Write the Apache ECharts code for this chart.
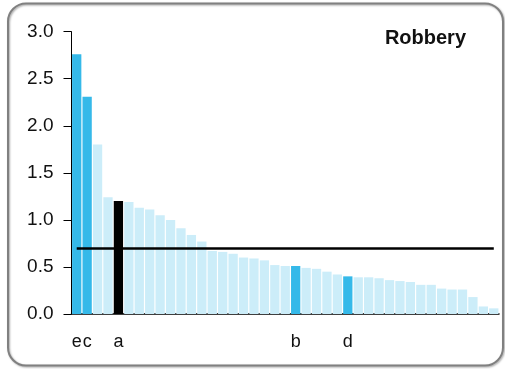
<!DOCTYPE html>
<html>
<head>
<meta charset="utf-8">
<script src="https://cdn.jsdelivr.net/npm/echarts@6/dist/echarts.min.js"></script>
<style>
html,body{margin:0;padding:0;background:#fff;}
#chart{width:505px;height:369px;}
</style>
</head>
<body>
<div id="chart"></div>
<script>
// ---- data ----
var title = 'Robbery';
var categories = ['P1','P2','P3','P4','P5','P6','P7','P8','P9','P10','P11','P12','P13','P14','P15','P16','P17','P18','P19','P20','P21','P22','P23','P24','P25','P26','P27','P28','P29','P30','P31','P32','P33','P34','P35','P36','P37','P38','P39','P40','P41'];
var pointLabels = ['e','c','','','a','','','','','','','','','','','','','','','','','b','','','','','d','','','','','','','','','','','','','',''];
var values = [2.76,2.31,1.80,1.24,1.20,1.19,1.13,1.11,1.05,1.00,0.91,0.84,0.77,0.67,0.66,0.64,0.60,0.59,0.57,0.52,0.51,0.51,0.49,0.48,0.45,0.42,0.40,0.39,0.39,0.38,0.36,0.35,0.34,0.31,0.31,0.27,0.26,0.26,0.18,0.08,0.06];
// group: 'hi' = highlighted, 'sel' = selected, 'base' = others
var groups = ['hi','hi','base','base','sel','base','base','base','base','base','base','base','base','base','base','base','base','base','base','base','base','hi','base','base','base','base','hi','base','base','base','base','base','base','base','base','base','base','base','base','base','base'];
var threshold = 0.7;
var yTicks = [0,0.5,1.0,1.5,2.0,2.5,3.0];

var groupColors = {hi:'#35B9E9', sel:'#000000', base:'#CCEDF9'};

var chart = echarts.init(document.getElementById('chart'), null, {renderer:'canvas'});
var barData = values.map(function(v,i){
  return {value:v, itemStyle:{color:groupColors[groups[i]]}};
});

chart.setOption({
  animation:false,
  backgroundColor:'#ffffff',
  textStyle:{fontFamily:'Liberation Sans, Arial, sans-serif'},
  graphic:[{
    type:'rect',
    shape:{x:8,y:3.5,width:495,height:362,r:18},
    style:{fill:'none',stroke:'#808080',lineWidth:2,shadowBlur:2,shadowColor:'rgba(0,0,0,0.35)',shadowOffsetX:1,shadowOffsetY:1},
    z:-10
  },{
    type:'text',
    right:39,top:28,
    style:{text:title,fill:'#111',font:'bold 20px "Liberation Sans", Arial, sans-serif'}
  }],
  grid:{left:71.5,right:6,top:31.7,bottom:55,containLabel:false},
  xAxis:{
    type:'category',
    data:categories,
    boundaryGap:true,
    axisLine:{lineStyle:{color:'#000',width:1.5}},
    axisTick:{show:false},
    axisLabel:{interval:0,margin:19,fontSize:18,color:'#111',
      formatter:function(v,i){return pointLabels[i];}}
  },
  yAxis:{
    type:'value',
    min:yTicks[0],max:yTicks[yTicks.length-1],interval:0.5,
    splitLine:{show:false},
    axisLine:{show:true,lineStyle:{color:'#000',width:1}},
    axisTick:{show:true,length:8,lineStyle:{color:'#000'}},
    axisLabel:{fontSize:19,color:'#111',margin:18,formatter:function(v){return v.toFixed(1);}}
  },
  series:[{
    type:'bar',
    data:barData,
    barCategoryGap:'11%',
    markLine:{
      silent:true,
      symbol:['none','none'],
      label:{show:false},
      lineStyle:{color:'#000',width:2.5,type:'solid'},
      data:[[{coord:[categories[0],threshold]},{coord:[categories[categories.length-1],threshold]}]]
    }
  }]
});
</script>
</body>
</html>
